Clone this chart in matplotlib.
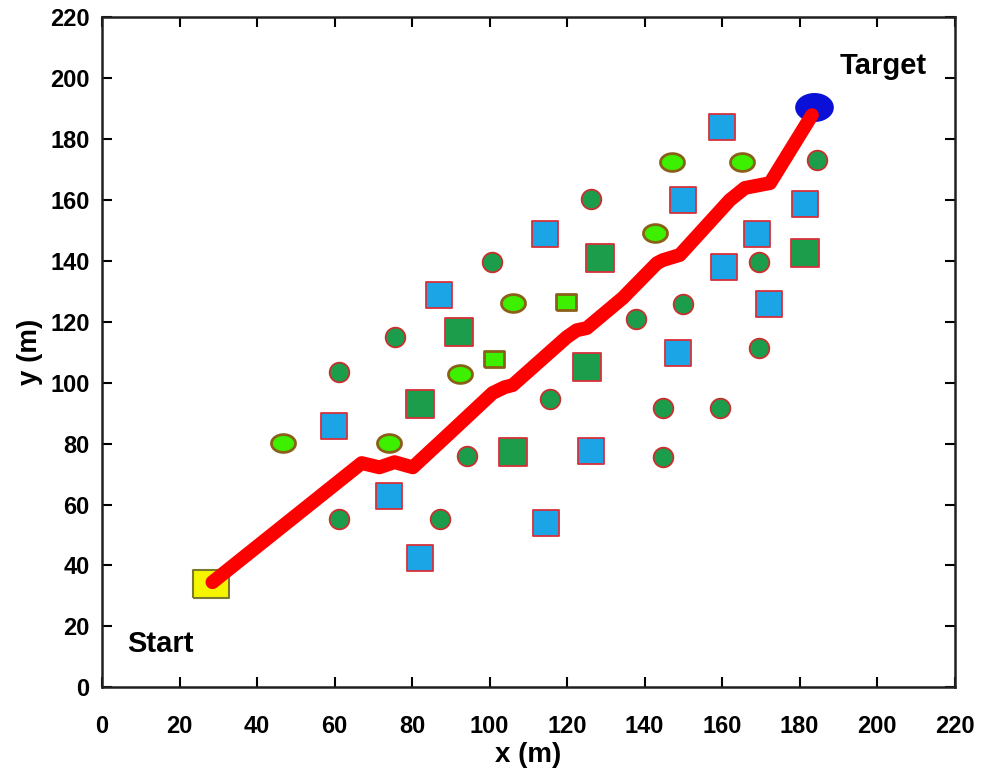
import matplotlib
matplotlib.use("Agg")
import matplotlib.pyplot as plt
import numpy as np

# path from start to target
path_x = [28.5, 67.0, 71.6, 75.5, 80.2, 89.7, 100.8, 103.9, 106.0, 119.9, 122.5, 125.1, 132.8, 134.4, 143.2, 144.7, 149.1, 162.0, 165.9, 172.4, 183.2]
path_y = [34.5, 73.6, 72.2, 73.9, 72.2, 83.4, 96.6, 98.5, 99.2, 114.9, 117.2, 117.9, 126.1, 127.8, 139.2, 140.2, 141.9, 159.9, 163.9, 165.5, 187.8]

start_xy = (28.1, 33.8)
target_xy = (183.8, 190.5)

blue_sq_x = [160.1, 150.0, 114.4, 87.0, 169.1, 160.6, 181.5, 172.2, 148.7, 59.9, 74.1, 126.3, 114.6, 82.1]
blue_sq_y = [183.9, 159.9, 148.8, 128.7, 148.8, 137.9, 158.6, 125.8, 109.7, 85.7, 62.7, 77.5, 53.9, 42.4]

green_sq_x = [92.2, 128.6, 181.3, 125.2, 82.1, 106.1]
green_sq_y = [116.6, 140.9, 142.5, 105.1, 92.9, 77.2]

lime_sq_x = [119.8, 101.2]
lime_sq_y = [126.4, 107.7]

lime_ell_x = [147.2, 165.2, 142.8, 106.1, 92.4, 46.7, 74.1]
lime_ell_y = [172.4, 172.4, 149.1, 126.1, 102.8, 80.1, 80.1]

green_c_x = [126.3, 184.4, 100.7, 169.6, 75.7, 137.9, 150.0, 61.2, 169.6, 115.7, 144.8, 159.6, 94.2, 144.8, 61.2, 87.3]
green_c_y = [160.3, 173.1, 139.6, 139.6, 114.9, 120.9, 125.8, 103.4, 111.3, 94.6, 91.6, 91.6, 75.9, 75.5, 55.2, 55.2]

ticks = list(range(0, 221, 20))

plt.rcParams['font.family'] = ['Liberation Sans', 'DejaVu Sans']

fig = plt.figure(figsize=(9.81, 7.74), dpi=100)
ax = fig.add_axes([0.104, 0.112, 0.869, 0.866])

t = np.linspace(0, 2 * np.pi, 60)
ell = np.column_stack([np.cos(t), 0.74 * np.sin(t)])
rect = [(-1, -0.78), (1, -0.78), (1, 0.78), (-1, 0.78), (-1, -0.78)]

ax.scatter(blue_sq_x, blue_sq_y, marker='s', s=350, c='#1ba4e6', edgecolors='#d8303a', linewidths=1.3, zorder=3)
ax.scatter(green_sq_x, green_sq_y, marker='s', s=410, c='#1b9d4b', edgecolors='#d8303a', linewidths=1.3, zorder=3)
ax.scatter(green_c_x, green_c_y, marker='o', s=200, c='#1b9d4b', edgecolors='#c83030', linewidths=1.3, zorder=3)
ax.scatter(lime_ell_x, lime_ell_y, marker=ell, s=300, c='#3cf000', edgecolors='#8a6018', linewidths=2.0, zorder=3)
ax.scatter(lime_sq_x, lime_sq_y, marker=rect, s=210, c='#3cf000', edgecolors='#8a6018', linewidths=2.0, zorder=3)

ax.scatter([start_xy[0]], [start_xy[1]], marker=rect, s=700, c='#f5f500', edgecolors='#7a7a30', linewidths=1.5, zorder=4)
ax.scatter([target_xy[0]], [target_xy[1]], marker=ell, s=720, c='#0a10d8', edgecolors='#0a10d8', linewidths=1, zorder=4)

ax.plot(path_x, path_y, color='#ff0000', lw=10, solid_capstyle='round', solid_joinstyle='round', zorder=5)

ax.text(15.0, 14.3, 'Start', fontsize=21, fontweight='bold', ha='center', va='center')
ax.text(201.5, 203.8, 'Target', fontsize=21, fontweight='bold', ha='center', va='center')

ax.set_xlim(0, 220)
ax.set_ylim(0, 220)
ax.set_xticks(ticks)
ax.set_yticks(ticks)
ax.tick_params(direction='in', top=True, right=True, length=7, width=1.5, labelsize=17)
ax.tick_params(axis='x', pad=20)
ax.tick_params(axis='y', pad=9)
for lab in ax.get_xticklabels() + ax.get_yticklabels():
    lab.set_fontweight('bold')
for sp in ax.spines.values():
    sp.set_linewidth(1.8)
    sp.set_color('#202020')

ax.set_xlabel('x (m)', fontsize=20, fontweight='bold', labelpad=3)
ax.set_ylabel('y (m)', fontsize=20, fontweight='bold', labelpad=5)

fig.savefig('out.png', dpi=100)
